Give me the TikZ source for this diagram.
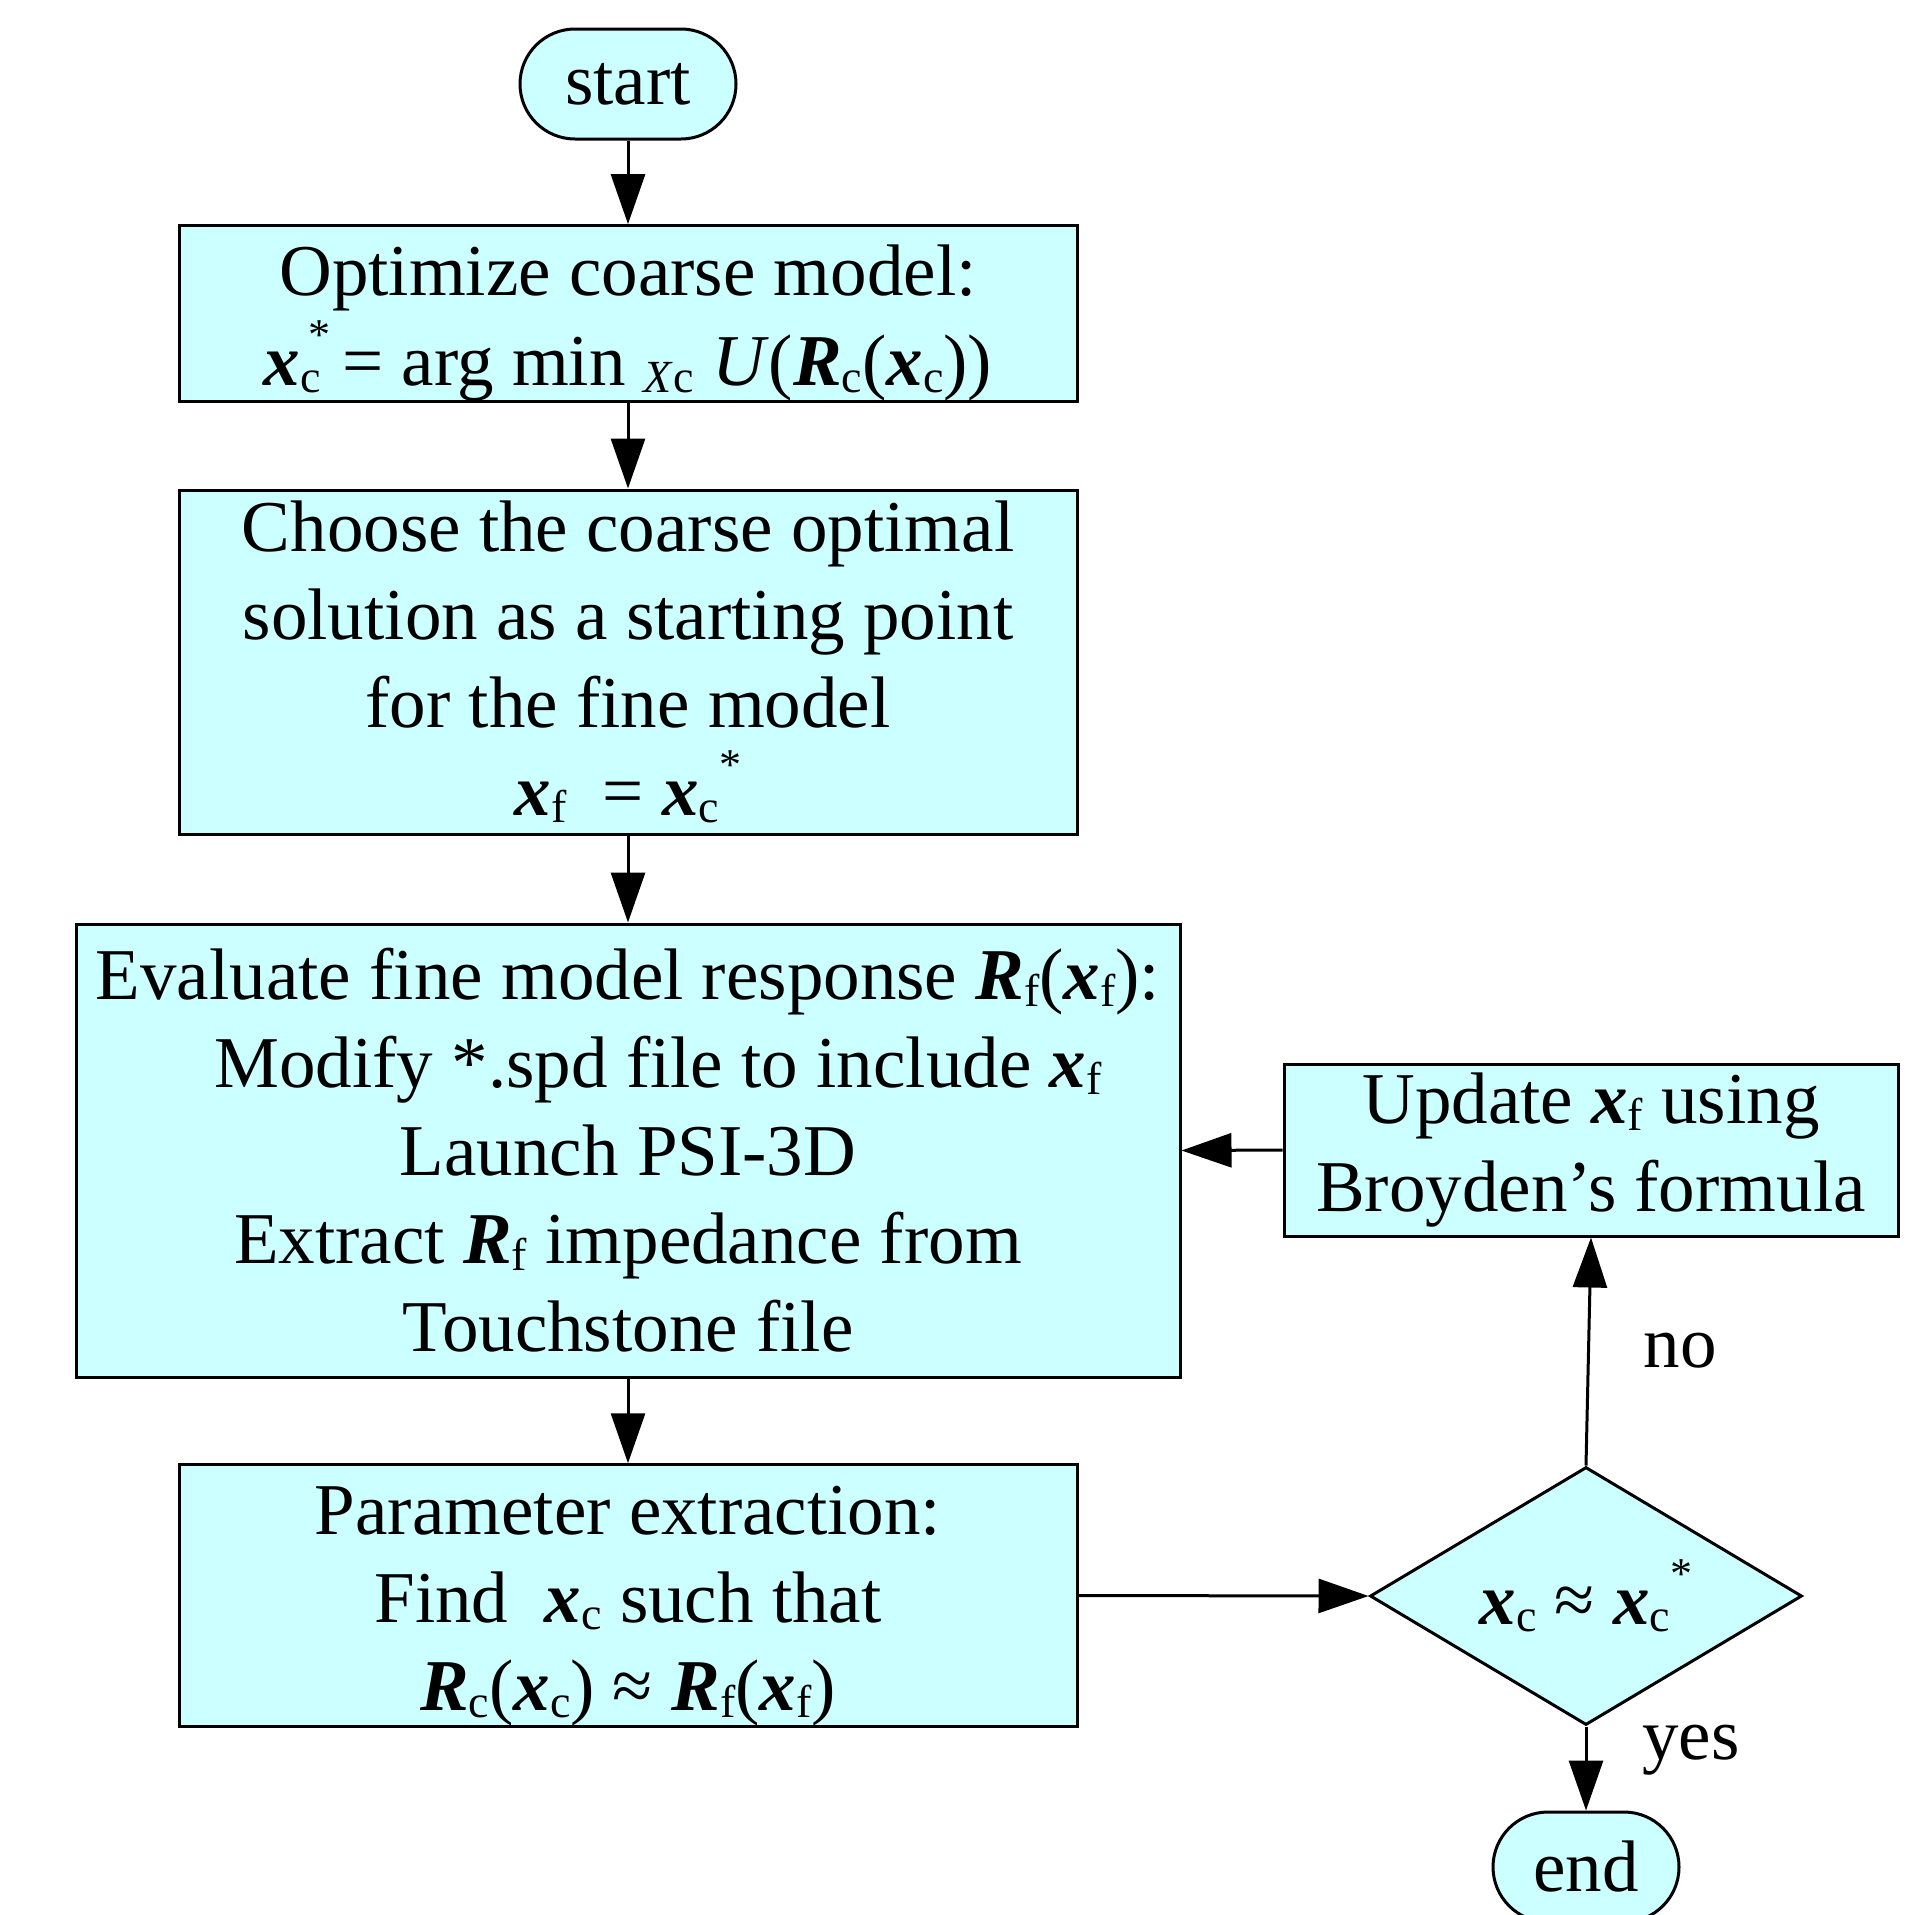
\documentclass[tikz,border=0pt]{standalone}
\usepackage{fontspec}
\setmainfont{Liberation Serif}
\usetikzlibrary{shapes.geometric,arrows.meta}
\definecolor{boxfill}{HTML}{CCFFFF}
\newcommand{\bvx}{\textbf{\textit{x}}}
\newcommand{\bvR}{\textbf{\textit{R}}}
\newcommand{\sbs}[1]{\raisebox{-7pt}{\fontsize{46}{46}\selectfont #1}}
\newcommand{\sps}{\raisebox{36pt}{\fontsize{44}{44}\selectfont *}}
\begin{document}
\begin{tikzpicture}[x=1pt,y=-1pt,
  every node/.style={font=\fontsize{73}{88}\selectfont},
  proc/.style={draw=black,line width=3pt,fill=boxfill,align=center,inner sep=0pt},
  term/.style={proc,rounded corners=55pt,minimum width=186pt,minimum height=110pt},
  decis/.style={draw=black,line width=3pt,fill=boxfill,diamond,shape aspect=1.67,inner sep=0pt,minimum width=432pt,minimum height=258pt},
  conn/.style={line width=3pt,-{Triangle[length=50pt,width=34pt]}},
  lbl/.style={inner sep=0pt}]
\useasboundingbox (0,0) rectangle (1926,1914);
\node[term,minimum width=216pt] (start) at (628,84) {start};
\node[proc,minimum width=898pt,minimum height=173pt] (b1) at (628,313.5)
  {\rule{0pt}{70pt}Optimize coarse model:\\[2pt]
   \bvx\rlap{\sbs{c}}\hspace{30pt}\llap{\sps}\,= arg min \sbs{\textit{X}c} \textit{U}(\bvR\sbs{c}(\bvx\sbs{c}))};
\node[proc,minimum width=898pt,minimum height=344pt] (b2) at (628,662)
  {Choose the coarse optimal\\solution as a starting point\\for the fine model\\
   \bvx\sbs{f}\ \ = \bvx\sbs{c}\sps};
\node[proc,minimum width=1104pt,minimum height=453pt] (b3) at (628,1150.5)
  {Evaluate fine model response \bvR\sbs{f}(\bvx\sbs{f}):\\
   \hspace*{60pt}Modify *.spd file to include \bvx\sbs{f}\\
   Launch PSI-3D\\
   Extract \bvR\sbs{f} impedance from\\
   Touchstone file};
\node[proc,minimum width=898pt,minimum height=261pt] (b4) at (628,1595.5)
  {\rule{0pt}{70pt}Parameter extraction:\\
   Find\ \ \bvx\sbs{c} such that\\
   \bvR\sbs{c}(\bvx\sbs{c}) ≈ \bvR\sbs{f}(\bvx\sbs{f})};
\node[decis] (dia) at (1586,1596) {\bvx\sbs{c} ≈ \bvx\sbs{c}\sps};
\node[proc,minimum width=614pt,minimum height=172pt] (upd) at (1591,1150)
  {Update \bvx\sbs{f} using\\Broyden’s formula};
\node[term] (end) at (1586,1867) {end};
\node[lbl] (no) at (1680,1351) {no};
\node[lbl] (yes) at (1691,1750) {yes};
\draw[conn] (start.south) -- (b1.north);
\draw[conn] (b1.south) -- (b2.north);
\draw[conn] (b2.south) -- (b3.north);
\draw[conn] (b3.south) -- (b4.north);
\draw[conn] (b4.east) -- (dia.west);
\draw[conn] (dia.south) -- (end.north);
\draw[conn] (dia.north) -- (upd.south);
\draw[conn] (upd.west) -- (b3.east);
\end{tikzpicture}
\end{document}
